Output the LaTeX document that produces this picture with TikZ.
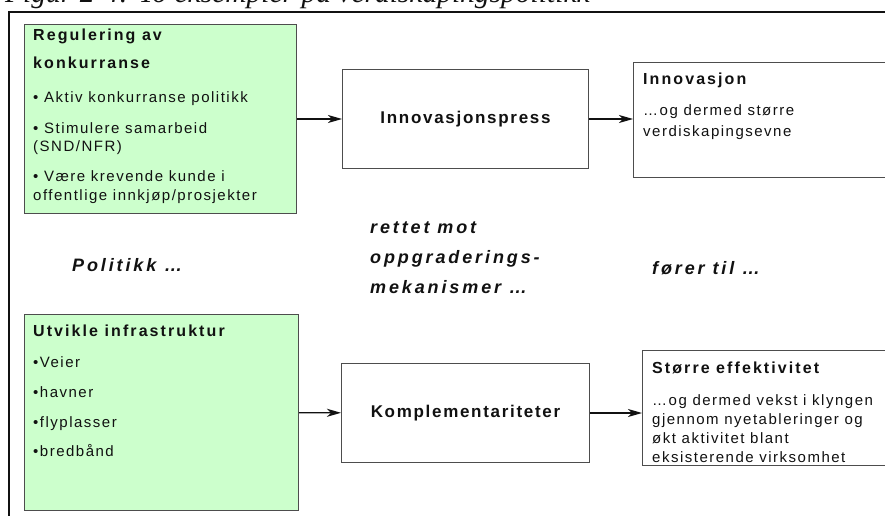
\documentclass[tikz,border=0pt]{standalone}
\usepackage{fontspec}
\usepackage{xcolor}
\usepackage{tikz}
\usetikzlibrary{arrows.meta, positioning}
\setmainfont{Liberation Sans}
\newfontfamily\boxfont[LetterSpace=10]{Liberation Sans}
\newfontfamily\headfont[LetterSpace=13]{Liberation Sans}
\newfontfamily\labfont[LetterSpace=16]{Liberation Sans}
\newfontfamily\capfont{Liberation Serif}
\definecolor{BoxGreen}{HTML}{CCFFCC}
\definecolor{BoxEdge}{HTML}{4D4D4D}
\definecolor{TextInk}{HTML}{111111}

\tikzset{
  greenbox/.style={draw=BoxEdge, fill=BoxGreen, line width=1pt, anchor=north west, inner sep=0pt},
  plainbox/.style={draw=BoxEdge, fill=white, line width=1pt, anchor=north west, inner sep=0pt,
    text=TextInk, font=\boxfont\bfseries\fontsize{17}{20}\selectfont},
  headtxt/.style={anchor=base west, inner sep=0pt, text=TextInk, font=\headfont\bfseries\fontsize{16}{19}\selectfont},
  bodytxt/.style={anchor=base west, inner sep=0pt, text=TextInk, font=\boxfont\fontsize{15}{18}\selectfont},
  labtxt/.style={anchor=west, inner sep=0pt, align=left, text=TextInk, font=\labfont\bfseries\itshape\fontsize{18}{30}\selectfont},
  flow/.style={-{Stealth[length=14pt, width=8pt, inset=4pt]}, line width=1.3pt, TextInk},
}

\begin{document}
\begin{tikzpicture}[x=1pt, y=-1pt]
  \useasboundingbox (0,0) rectangle (885,516);
  \clip (0,0) rectangle (885,516);
  % Caption (cut at the top edge)
  \node[anchor=base west, inner sep=0pt, text=TextInk, font=\capfont\itshape\fontsize{29.5}{32}\selectfont] (figcap) at (5,3) {Figur 2-4: To eksempler på verdiskapingspolitikk};
  % Frame
  \draw[line width=2pt, TextInk] (9,516) -- (9,12) -- (885,12);

  % Upper row
  \node[greenbox, minimum width=272pt, minimum height=189pt] (reg) at (24,24) {};
  \node[plainbox, minimum width=246pt, minimum height=99pt] (press) at (342,69) {Innovasjonspress};
  \node[plainbox, minimum width=275pt, minimum height=115pt] (inno) at (633,62) {};
  \node[headtxt] (regh1) at (33,40.7) {Regulering av};
  \node[headtxt] (regh2) at (33,68.3) {konkurranse};
  \foreach \y/\t [count=\i] in {102.7/{• Aktiv konkurranse politikk}, 133.3/{• Stimulere samarbeid},
      151.7/{(SND/NFR)}, 181.7/{• Være krevende kunde i}, 200.3/{offentlige innkjøp/prosjekter}}
    \node[bodytxt] (reg\i) at (33,\y) {\t};
  \node[headtxt] (innoh) at (643,85) {Innovasjon};
  \node[bodytxt] (inno1) at (643,116) {…og dermed større};
  \node[bodytxt] (inno2) at (643,136.5) {verdiskapingsevne};

  % Lower row
  \node[greenbox, minimum width=274pt, minimum height=196pt] (infra) at (24,314) {};
  \node[plainbox, minimum width=248pt, minimum height=99pt] (kompl) at (341,363) {Komplementariteter};
  \node[plainbox, minimum width=266pt, minimum height=115pt] (eff) at (642,350) {};
  \node[headtxt] (infrah) at (33,336) {Utvikle infrastruktur};
  \foreach \y/\t [count=\i] in {367/•Veier, 397/•havner, 427/•flyplasser, 456/•bredbånd}
    \node[bodytxt] (infra\i) at (33,\y) {\t};
  \node[headtxt] (effh) at (652,373) {Større effektivitet};
  \foreach \y/\t [count=\i] in {405/{…og dermed vekst i klyngen}, 424/{gjennom nyetableringer og},
      443/{økt aktivitet blant}, 462/{eksisterende virksomhet}}
    \node[bodytxt] (eff\i) at (652,\y) {\t};

  % Arrows
  \draw[flow] (reg) -- (press);
  \draw[flow] (press.east) -- (press.east -| inno.west);
  \draw[flow] (infra) -- (kompl);
  \draw[flow] (kompl.east) -- (kompl.east -| eff.west);

  % Column labels
  \node[labtxt] (pol) at (72,265) {Politikk …};
  \node[labtxt] (mek) at (370,258) {rettet mot\\oppgraderings-\\mekanismer …};
  \node[labtxt] (forer) at (652,268) {fører til …};
\end{tikzpicture}
\end{document}
